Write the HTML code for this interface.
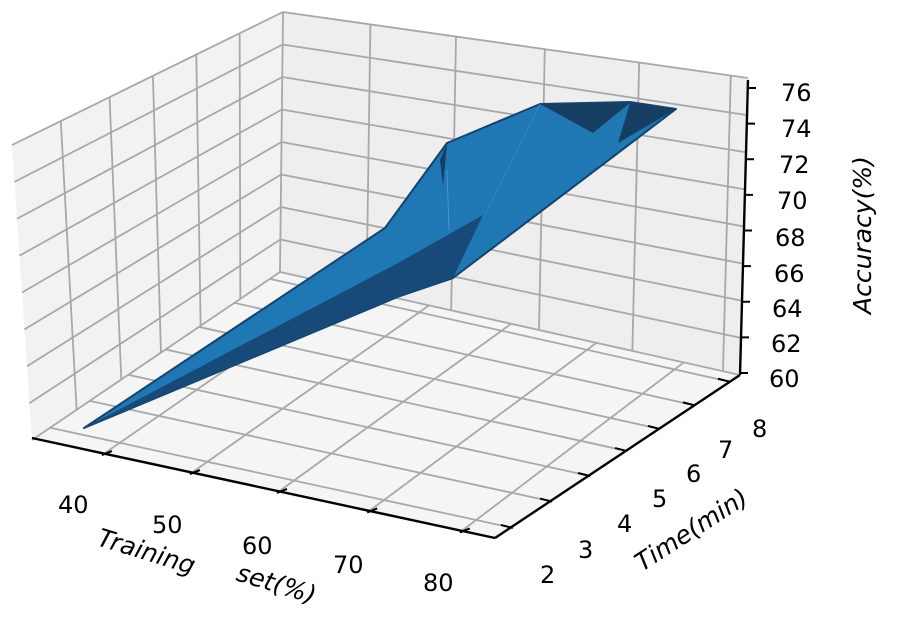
<!DOCTYPE html>
<html><head><meta charset="utf-8"><style>
html,body{margin:0;padding:0;background:#fff;}
svg{display:block;}
text{font-family:"DejaVu Sans","Liberation Sans",sans-serif;fill:#000;}
</style></head><body>
<svg id="s" width="898" height="618" viewBox="0 0 898 618" xmlns="http://www.w3.org/2000/svg">
<polygon points="12,145 283,12 280,272 32,440" fill="#f2f2f2"/>
<polygon points="283,12 748,78 740,375 280,272" fill="#eeeeee"/>
<polygon points="32,440 280,272 740,375 495,540" fill="#f5f5f5"/>
<g id="grid" stroke="#a8a8a8" stroke-width="1.8" fill="none"></g>
<g stroke="#000" stroke-width="2.4" fill="none">
<line x1="32" y1="438" x2="495" y2="538"/>
<line x1="495" y1="538" x2="740" y2="375"/>
<line x1="740" y1="375" x2="748" y2="80"/>
</g>
<g id="ticks" stroke="#000" stroke-width="2"></g>
<g stroke-linejoin="round">
<polygon points="84,428 385,228 447,143 540,104 630,102 676,109 453,278 400,296" fill="#1f77b4" stroke="#15446e" stroke-width="2"/>
<polygon points="84,428 400,262 483,215 453,278 400,296" fill="#174a78"/>
<polygon points="540,104 630,103 593,133" fill="#163e62"/>
<polygon points="630,103 676,109 618,143" fill="#163e62"/>
<polygon points="447,143 443,186 440,160" fill="#163e62"/>
<line x1="447" y1="170" x2="449" y2="230" stroke="#4b95cf" stroke-width="1"/>
<line x1="540" y1="104" x2="485" y2="215" stroke="#2f86c6" stroke-width="1"/>
</g>
<g font-size="24">
<text x="58" y="513">40</text>
<text x="152" y="533">50</text>
<text x="242" y="554">60</text>
<text x="333" y="573">70</text>
<text x="423" y="591">80</text>
<text x="540" y="583">2</text>
<text x="578" y="558">3</text>
<text x="617" y="532">4</text>
<text x="652" y="507">5</text>
<text x="686" y="482">6</text>
<text x="718" y="458">7</text>
<text x="752" y="437">8</text>
<text x="781" y="101">76</text>
<text x="781" y="137">74</text>
<text x="779" y="173">72</text>
<text x="777" y="209">70</text>
<text x="775" y="246">68</text>
<text x="774" y="282">66</text>
<text x="772" y="317">64</text>
<text x="771" y="352">62</text>
<text x="769" y="387">60</text>
</g>
<g font-size="25" font-style="italic">
<text transform="translate(96,545) rotate(17)">Training</text>
<text transform="translate(235,580) rotate(17)">set(%)</text>
<text transform="translate(642,572) rotate(-33)">Time(min)</text>
<text transform="translate(871,314) rotate(-90)">Accuracy(%)</text>
</g>
</svg>
<script>
(function(){
var ns="http://www.w3.org/2000/svg",g=document.getElementById('grid'),tk=document.getElementById('ticks');
function L(p,q,par){var l=document.createElementNS(ns,'line');l.setAttribute('x1',p[0]);l.setAttribute('y1',p[1]);l.setAttribute('x2',q[0]);l.setAttribute('y2',q[1]);(par||g).appendChild(l);}
function lerp(a,b,t){return [a[0]+(b[0]-a[0])*t,a[1]+(b[1]-a[1])*t];}
var LT=[12,145],BT=[283,12],RT=[748,78],LB=[32,440],BB=[280,272],RB=[740,375],FB=[495,540];
[0.18,0.36,0.52,0.68,0.84].forEach(function(f){L(lerp(LT,BT,f),lerp(LB,BB,f));});
L(BT,BB);
[0.188,0.372,0.563,0.766,0.963].forEach(function(f){L(lerp(BT,RT,f),lerp(BB,RB,f));});
for(var k=0;k<=8;k++){var t=k/8;var lb=lerp(LB,LT,t),bb=lerp(BB,BT,t),rb=lerp(RB,RT,t);L(lb,bb);L(bb,rb);}
var xf=[0.151,0.341,0.529,0.724,0.924];
xf.forEach(function(f){var p=lerp(LB,FB,f);L(p,lerp(BB,RB,f*0.95));L(p,[p[0]+10,p[1]-4],tk);});
[0.073,0.233,0.388,0.539,0.673,0.816,0.959].forEach(function(f){var p=lerp(FB,RB,f);L(p,lerp(LB,BB,f));L(p,[p[0]-12,p[1]-3],tk);});
for(var k=0;k<=8;k++){var p=lerp([740,373],[748,88],k/8);L(p,[p[0]+8,p[1]],tk);}
})();
</script>
</body></html>
